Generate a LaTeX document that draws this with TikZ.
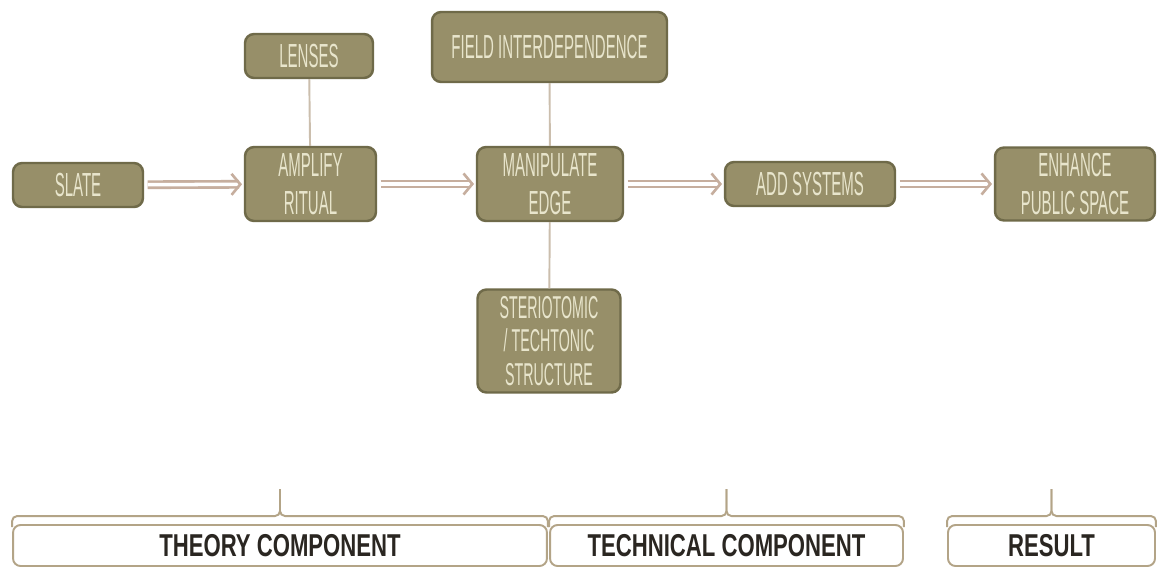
\documentclass[tikz,border=0pt]{standalone}
\usepackage{fontspec}
\setmainfont{Liberation Sans}[FakeStretch=0.45]
\newfontfamily\tagfont{Liberation Sans}[FakeStretch=0.7]
\usetikzlibrary{arrows.meta}

\definecolor{olive}{HTML}{978F69}
\definecolor{olivedark}{HTML}{6F6A49}
\definecolor{cream}{HTML}{E8E5CC}
\definecolor{shaft}{HTML}{C6AE9E}
\definecolor{stem}{HTML}{CBBEAD}
\definecolor{tan}{HTML}{B3A487}
\definecolor{ink}{HTML}{2A2621}

\tikzset{
  stepbox/.style={rectangle, rounded corners=0.18cm, fill=olive, draw=olivedark,
    line width=1.4pt, text=cream, align=center, inner sep=0pt,
    font=\fontsize{19}{21.5}\selectfont},
  flow/.style={draw=shaft, double=white, double distance=2pt, line width=1.5pt,
    -{Straight Barb[length=5pt, width=12pt, line width=1.5pt]},
    shorten <=2pt, shorten >=1pt},
  link/.style={draw=stem, line width=1.1pt},
  tagbox/.style={rectangle, rounded corners=0.15cm, fill=white, draw=tan,
    line width=1.1pt, text=ink, inner sep=0pt, minimum height=0.82cm,
    font=\tagfont\bfseries\fontsize{18}{20}\selectfont},
  bracket/.style={draw=tan, line width=1.1pt, rounded corners=0.1cm}
}

% brace over a component box, with its tick in the middle
\newcommand\tagbrace[1]{%
  \draw[bracket] ([yshift=-0.06cm]#1.north west) |- ([yshift=0.16cm]#1.north)
    -- ([yshift=0.7cm]#1.north);
  \draw[bracket] ([yshift=-0.06cm]#1.north east) |- ([yshift=0.16cm]#1.north)
    -- ([yshift=0.7cm]#1.north);
}

\begin{document}
\begin{tikzpicture}[x=0.02cm, y=-0.02cm]
\fill[white] (0,0) rectangle (1157,566);
\useasboundingbox (0,0) rectangle (1157,566);

\node[stepbox, minimum width=2.6cm, minimum height=0.88cm] (slate) at (78,185) {SLATE};
\node[stepbox, minimum width=2.56cm, minimum height=0.88cm] (lenses) at (309,56) {LENSES};
\node[stepbox, minimum width=2.62cm, minimum height=1.48cm] (amplify) at (310.5,184) {AMPLIFY\\RITUAL};
\node[stepbox, minimum width=4.7cm, minimum height=1.4cm] (field) at (549.5,47) {FIELD INTERDEPENDENCE};
\node[stepbox, minimum width=2.92cm, minimum height=1.48cm] (edge) at (550,184) {MANIPULATE\\EDGE};
\node[stepbox, minimum width=3.4cm, minimum height=0.88cm] (systems) at (810,184) {ADD SYSTEMS};
\node[stepbox, minimum width=3.2cm, minimum height=1.46cm] (public) at (1075,184) {ENHANCE\\PUBLIC SPACE};
\node[stepbox, minimum width=2.86cm, minimum height=2.06cm,
  font=\fontsize{18}{19}\selectfont] (structure) at (549,341) {STERIOTOMIC\\/ TECHTONIC\\STRUCTURE};

\draw[link] (lenses) -- (amplify);
\draw[link] (field) -- (edge);
\draw[link] (edge) -- (structure);

\draw[flow] (slate) -- (amplify);
\draw[flow] (amplify) -- (edge);
\draw[flow] (edge) -- (systems);
\draw[flow] (systems) -- (public);

\node[tagbox, minimum width=10.68cm] (theory) at (280,545.5) {THEORY COMPONENT};
\node[tagbox, minimum width=7.06cm] (technical) at (726.5,545.5) {TECHNICAL COMPONENT};
\node[tagbox, minimum width=4.14cm] (result) at (1051.5,545.5) {RESULT};
\tagbrace{theory}
\tagbrace{technical}
\tagbrace{result}
\end{tikzpicture}
\end{document}
